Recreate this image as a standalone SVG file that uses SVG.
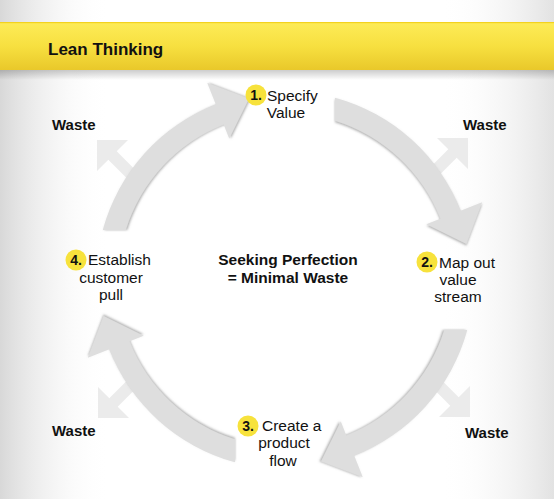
<svg xmlns="http://www.w3.org/2000/svg" width="554" height="499" viewBox="0 0 554 499">
<defs>
<linearGradient id="bgL" x1="0" y1="0" x2="1" y2="0">
<stop offset="0" stop-color="#d8d8d8" stop-opacity="1"/>
<stop offset="1" stop-color="#ffffff" stop-opacity="0"/>
</linearGradient>
<linearGradient id="bgR" x1="0" y1="0" x2="1" y2="0">
<stop offset="0" stop-color="#ffffff" stop-opacity="0"/>
<stop offset="1" stop-color="#e2e2e2" stop-opacity="1"/>
</linearGradient>
<linearGradient id="band" x1="0" y1="0" x2="0" y2="1">
<stop offset="0" stop-color="#fdec58"/>
<stop offset="0.5" stop-color="#f7e040"/>
<stop offset="1" stop-color="#e9c82a"/>
</linearGradient>
<linearGradient id="bandShadow" x1="0" y1="0" x2="0" y2="1">
<stop offset="0" stop-color="#000000" stop-opacity="0.2"/>
<stop offset="1" stop-color="#000000" stop-opacity="0"/>
</linearGradient>
<filter id="sh" x="-10%" y="-10%" width="120%" height="120%">
<feDropShadow dx="0" dy="1.5" stdDeviation="0.8" flood-color="#7a7a7a" flood-opacity="0.6"/>
</filter>
<path id="mainArrow" d="M335,97.7 A189,189 0 0 1 460.8,210.7 L482.2,202.3 L466.4,244 L426.4,224.3 L440.4,218.8 A167,167 0 0 0 335,120.7 Z"/>
<polygon id="wasteArrow" points="0,0 -31,0 -19.7,11.3 -42.3,33.9 -33.9,42.3 -11.3,19.7 0,31"/>
</defs>
<style>
.t{font-family:"Liberation Sans",Arial,Helvetica,sans-serif;fill:#111}
.b{font-weight:bold}
.lbl{font-size:15.5px}
.waste{font-size:15px;font-weight:bold}
.num{font-size:14px;font-weight:bold;text-anchor:middle}
.badge{fill:#f7e23c}
.main{fill:#dedede;filter:url(#sh)}
.w{fill:#ebebeb}
.mid{text-anchor:middle}
</style>
<rect x="0" y="0" width="554" height="499" fill="#ffffff"/>
<rect x="0" y="0" width="110" height="499" fill="url(#bgL)"/>
<rect x="440" y="0" width="114" height="499" fill="url(#bgR)"/>
<rect x="0" y="70" width="554" height="10" fill="url(#bandShadow)"/>
<rect x="0" y="22" width="554" height="48" fill="url(#band)"/>
<rect x="0" y="22" width="554" height="1.2" fill="#f3d21e"/>
<text class="t b" x="48" y="55" font-size="17">Lean Thinking</text>

<g id="waste-arrows">
<use href="#wasteArrow" class="w" transform="translate(468,138)"/>
<use href="#wasteArrow" class="w" transform="translate(97,140) scale(-1,1)"/>
<use href="#wasteArrow" class="w" transform="translate(98,418) scale(-1,-1)"/>
<use href="#wasteArrow" class="w" transform="translate(470,417) scale(1,-1)"/>
</g>

<g id="connectors">
<use href="#mainArrow" class="main"/>
<use href="#mainArrow" class="main" transform="rotate(90 285 280)"/>
<use href="#mainArrow" class="main" transform="rotate(180 285 280)"/>
<use href="#mainArrow" class="main" transform="rotate(270 285 280)"/>
</g>

<g id="node-1">
<circle class="badge" cx="256" cy="95" r="10.5"/>
<text class="t num" x="256" y="100">1.</text>
<text class="t lbl" x="267" y="101">Specify</text>
<text class="t lbl mid" x="286" y="118">Value</text>
</g>
<g id="node-2">
<circle class="badge" cx="427" cy="262" r="10.5"/>
<text class="t num" x="427" y="267">2.</text>
<text class="t lbl" x="439" y="268">Map out</text>
<text class="t lbl mid" x="458" y="285">value</text>
<text class="t lbl mid" x="458" y="302">stream</text>
</g>
<g id="node-3">
<circle class="badge" cx="248" cy="426" r="10.5"/>
<text class="t num" x="248" y="431">3.</text>
<text class="t lbl" x="262" y="431">Create a</text>
<text class="t lbl mid" x="284" y="448">product</text>
<text class="t lbl mid" x="283" y="466">flow</text>
</g>
<g id="node-4">
<circle class="badge" cx="76" cy="260" r="10.5"/>
<text class="t num" x="76" y="265">4.</text>
<text class="t lbl" x="88" y="265">Establish</text>
<text class="t lbl mid" x="111" y="283">customer</text>
<text class="t lbl mid" x="111" y="300">pull</text>
</g>
<g id="center">
<text class="t b mid" x="288" y="265" font-size="15.5">Seeking Perfection</text>
<text class="t b mid" x="288" y="283" font-size="15.5">= Minimal Waste</text>
</g>
<g id="waste-labels">
<text class="t waste" x="52" y="130">Waste</text>
<text class="t waste" x="463" y="130">Waste</text>
<text class="t waste" x="52" y="436">Waste</text>
<text class="t waste" x="465" y="438">Waste</text>
</g>
</svg>
